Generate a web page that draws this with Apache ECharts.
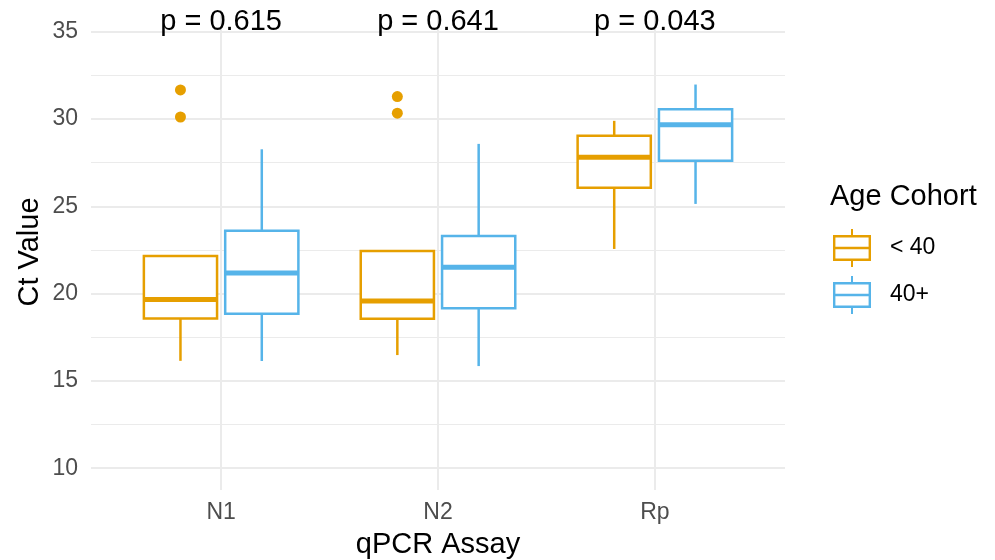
<!DOCTYPE html>
<html>
<head>
<meta charset="utf-8">
<script src="https://cdn.jsdelivr.net/npm/echarts@6.0.0/dist/echarts.min.js"></script>
<style>
  html, body { margin: 0; padding: 0; background: #fff; }
  #chart { width: 995px; height: 560px; }
</style>
</head>
<body>
<div id="chart"></div>
<script>
// assays on the x axis
const assays = ['N1', 'N2', 'Rp']
// box stats per assay: [lower whisker, Q1, median, Q3, upper whisker]
const under40 = [
  [16.15, 18.58, 19.67, 22.16, 22.16],
  [16.48, 18.56, 19.58, 22.44, 22.44],
  [22.56, 26.07, 27.81, 29.04, 29.9]
]
const over40 = [
  [16.14, 18.85, 21.18, 23.61, 28.27],
  [15.85, 19.16, 21.51, 23.3, 28.58],
  [25.14, 27.62, 29.67, 30.57, 31.98]
]
// outliers of the < 40 group: [assay index, value]
const under40Outliers = [[0, 31.67], [0, 30.12], [1, 31.29], [1, 30.34]]
// p values printed above each assay
const pLabels = ['p = 0.615', 'p = 0.641', 'p = 0.043']
const pLabelY = 35.57
const yTicks = [10, 15, 20, 25, 30, 35]
const yMinorTicks = [12.5, 17.5, 22.5, 27.5, 32.5]

const ORANGE = '#E69F00'
const BLUE = '#56B4E9'
const FONT = '"Liberation Sans", Arial, sans-serif'
const DODGE = 0.1875
const BOX_W = 0.3375

function boxData(stats, offset) {
  return stats.map((s, i) => [i + 1 + offset].concat(s))
}

function renderBox(params, api) {
  const x = api.value(0)
  const halfW = api.size([BOX_W, 0])[0] / 2
  const color = api.visual('color')
  const lo = api.coord([x, api.value(1)])
  const q1 = api.coord([x, api.value(2)])
  const med = api.coord([x, api.value(3)])
  const q3 = api.coord([x, api.value(4)])
  const hi = api.coord([x, api.value(5)])
  const cx = lo[0]
  const line = { stroke: color, lineWidth: 2.5 }
  return {
    type: 'group',
    children: [
      { type: 'line', shape: { x1: cx, y1: hi[1], x2: cx, y2: q3[1] }, style: line },
      { type: 'line', shape: { x1: cx, y1: q1[1], x2: cx, y2: lo[1] }, style: line },
      {
        type: 'rect',
        shape: { x: cx - halfW, y: q3[1], width: halfW * 2, height: q1[1] - q3[1] },
        style: { fill: '#fff', stroke: color, lineWidth: 2.5 }
      },
      {
        type: 'line',
        shape: { x1: cx - halfW, y1: med[1], x2: cx + halfW, y2: med[1] },
        style: { stroke: color, lineWidth: 5 }
      }
    ]
  }
}

function renderPLabel(params, api) {
  const p = api.coord([api.value(0), api.value(1)])
  return {
    type: 'text',
    x: p[0],
    y: p[1],
    style: {
      text: pLabels[params.dataIndex],
      align: 'center',
      verticalAlign: 'middle',
      fill: '#000',
      font: '29px ' + FONT
    }
  }
}

// boxplot legend key: whiskers, outlined box, median
const boxIcon = 'path://M18,0 H20 V6 H18 Z M0,6 H38 V32 H0 Z M2.4,8.4 V29.6 H35.6 V8.4 Z M0,17.8 H38 V20.2 H0 Z M18,32 H20 V38 H18 Z'

const chart = echarts.init(document.getElementById('chart'))
chart.setOption({
  backgroundColor: '#fff',
  animation: false,
  grid: { left: 91, right: 210, top: 10, bottom: 70 },
  xAxis: {
    type: 'value',
    min: 0.4,
    max: 3.6,
    axisLine: { show: false },
    axisTick: { show: false, customValues: [1, 2, 3] },
    axisLabel: {
      customValues: [1, 2, 3],
      formatter: v => assays[Math.round(v) - 1],
      color: '#4D4D4D',
      fontSize: 23,
      fontFamily: FONT,
      margin: 11
    },
    splitLine: { show: true, lineStyle: { color: '#EBEBEB', width: 2 } }
  },
  yAxis: [
    {
      type: 'value',
      min: 8.75,
      max: 36.25,
      axisLine: { show: false },
      axisTick: { show: false, customValues: yTicks },
      axisLabel: {
        customValues: yTicks,
        color: '#4D4D4D',
        fontSize: 23,
        fontFamily: FONT,
        margin: 13
      },
      splitLine: { show: true, lineStyle: { color: '#EBEBEB', width: 2 } }
    },
    {
      type: 'value',
      min: 8.75,
      max: 36.25,
      position: 'left',
      axisLine: { show: false },
      axisTick: { show: false, customValues: yMinorTicks },
      axisLabel: { show: false, customValues: yMinorTicks },
      splitLine: { show: true, lineStyle: { color: '#EBEBEB', width: 1.2 } }
    }
  ],
  legend: {
    orient: 'vertical',
    left: 833,
    top: 229,
    padding: 0,
    itemWidth: 38,
    itemHeight: 38,
    itemGap: 9,
    icon: boxIcon,
    data: ['< 40', '40+'],
    textStyle: { fontSize: 23, fontFamily: FONT, color: '#000', padding: [0, 0, 0, 14] }
  },
  graphic: [
    {
      type: 'text', left: 830, top: 182,
      style: { text: 'Age Cohort', font: '29px ' + FONT, fill: '#000' }
    },
    {
      type: 'text', x: 30, y: 252, rotation: Math.PI / 2,
      style: { text: 'Ct Value', font: '29px ' + FONT, fill: '#000', align: 'center', verticalAlign: 'middle' }
    },
    {
      type: 'text', x: 438, y: 545,
      style: { text: 'qPCR Assay', font: '29px ' + FONT, fill: '#000', align: 'center', verticalAlign: 'middle' }
    }
  ],
  series: [
    {
      name: '< 40',
      type: 'custom',
      color: ORANGE,
      renderItem: renderBox,
      encode: { x: 0, y: [1, 2, 3, 4, 5] },
      data: boxData(under40, -DODGE),
      z: 3
    },
    {
      name: '40+',
      type: 'custom',
      color: BLUE,
      renderItem: renderBox,
      encode: { x: 0, y: [1, 2, 3, 4, 5] },
      data: boxData(over40, DODGE),
      z: 3
    },
    {
      name: 'outliers',
      type: 'scatter',
      symbolSize: 11,
      itemStyle: { color: ORANGE, opacity: 1 },
      data: under40Outliers.map(o => [o[0] + 1 - DODGE, o[1]]),
      z: 4
    },
    {
      name: 'p',
      type: 'custom',
      renderItem: renderPLabel,
      encode: { x: 0, y: 1 },
      data: pLabels.map((t, i) => [i + 1, pLabelY]),
      z: 5
    }
  ]
})
</script>
</body>
</html>
